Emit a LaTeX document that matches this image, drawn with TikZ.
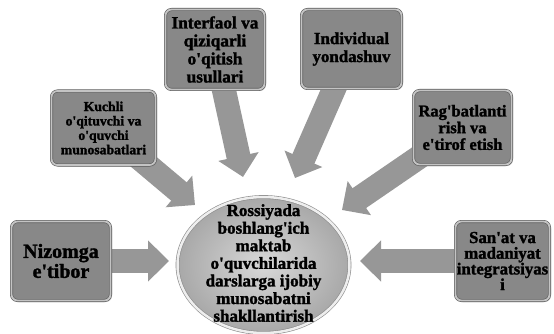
\documentclass[tikz,border=0pt]{standalone}
\usepackage{fontspec}
\setmainfont{Liberation Serif}[BoldFeatures={FakeBold=1.6}]
\usetikzlibrary{arrows.meta,shapes.geometric,shadows}
\definecolor{boxgray}{HTML}{888888}
\definecolor{boxedge}{HTML}{5A5A5A}
\definecolor{bevel}{HTML}{C4C4C4}
\definecolor{arrowgray}{HTML}{979797}
\definecolor{ellin}{HTML}{D8D8D8}
\definecolor{ellout}{HTML}{A8A8A8}
\definecolor{elledge}{HTML}{8A8A8A}
\definecolor{ellrim}{HTML}{EEEEEE}
\newcommand{\aps}{\textquotesingle}
\pgfdeclarelayer{background}
\pgfsetlayers{background,main}
\begin{document}
\begin{tikzpicture}[x=1pt,y=-1pt,
  box/.style={rectangle, rounded corners=6pt, fill=boxgray, draw=boxedge,
    line width=0.6pt, double=bevel, double distance=1.8pt, inner sep=0pt,
    align=center, text=black,
    drop shadow={opacity=0.35,shadow xshift=1.5pt,shadow yshift=-1.5pt}},
  bigarrow/.style={line width=24pt, draw=arrowgray,
    -{Triangle[length=21pt,width=40pt]}, shorten <=-14pt}
]
\useasboundingbox (0,0) rectangle (554,334);

\node[box, minimum width=99pt, minimum height=80pt,
  font=\bfseries\fontsize{17.3}{18}\selectfont] (interfaol) at (215,49.5)
  {Interfaol va\\qiziqarli\\o\aps qitish\\usullari};
\node[box, minimum width=104pt, minimum height=74pt,
  font=\bfseries\fontsize{13.7}{14.4}\selectfont] (kuchli) at (103.5,128)
  {Kuchli\\o\aps qituvchi va\\o\aps quvchi\\munosabatlari};
\node[box, minimum width=100pt, minimum height=79pt,
  font=\bfseries\fontsize{16.9}{18}\selectfont] (individual) at (351.5,49)
  {Individual\\yondashuv};
\node[box, minimum width=98pt, minimum height=74pt,
  font=\bfseries\fontsize{16.5}{16.7}\selectfont] (ragbat) at (462.5,127.5)
  {Rag\aps batlanti\\rish va\\e\aps tirof etish};
\node[box, minimum width=99pt, minimum height=79pt,
  font=\bfseries\fontsize{20}{20}\selectfont] (nizomga) at (61,261)
  {Nizomga\\e\aps tibor};
\node[box, minimum width=94pt, minimum height=79pt,
  font=\bfseries\fontsize{16.8}{15.7}\selectfont] (sanat) at (502.5,261)
  {San\aps at va\\madaniyat\\integratsiyas\\i};

\node[ellipse, minimum width=172pt, minimum height=136pt, inner sep=0pt,
  shading=radial, inner color=ellin, outer color=ellout,
  draw=elledge, line width=0.6pt, double=ellrim, double distance=2.5pt] (hub) at (263.5,265) {};
\node[align=center, text=black, inner sep=0pt,
  font=\bfseries\fontsize{17}{17.6}\selectfont] (hubtext) at (263.5,263)
  {Rossiyada\\boshlang\aps ich\\maktab\\o\aps quvchilarida\\darslarga ijobiy\\munosabatni\\shakllantirish};

\coordinate (tipA) at (169,261);
\coordinate (tipB) at (195,205);
\coordinate (tipC) at (243,177);
\coordinate (tipD) at (295,178);
\coordinate (tipE) at (342,210);
\coordinate (tipF) at (360,261);

\begin{pgfonlayer}{background}
\draw[bigarrow] (nizomga) -- (tipA);
\draw[bigarrow] (kuchli) -- (tipB);
\draw[bigarrow] (interfaol) -- (tipC);
\draw[bigarrow] (individual) -- (tipD);
\draw[bigarrow] (ragbat) -- (tipE);
\draw[bigarrow] (sanat) -- (tipF);
\end{pgfonlayer}
\end{tikzpicture}
\end{document}
